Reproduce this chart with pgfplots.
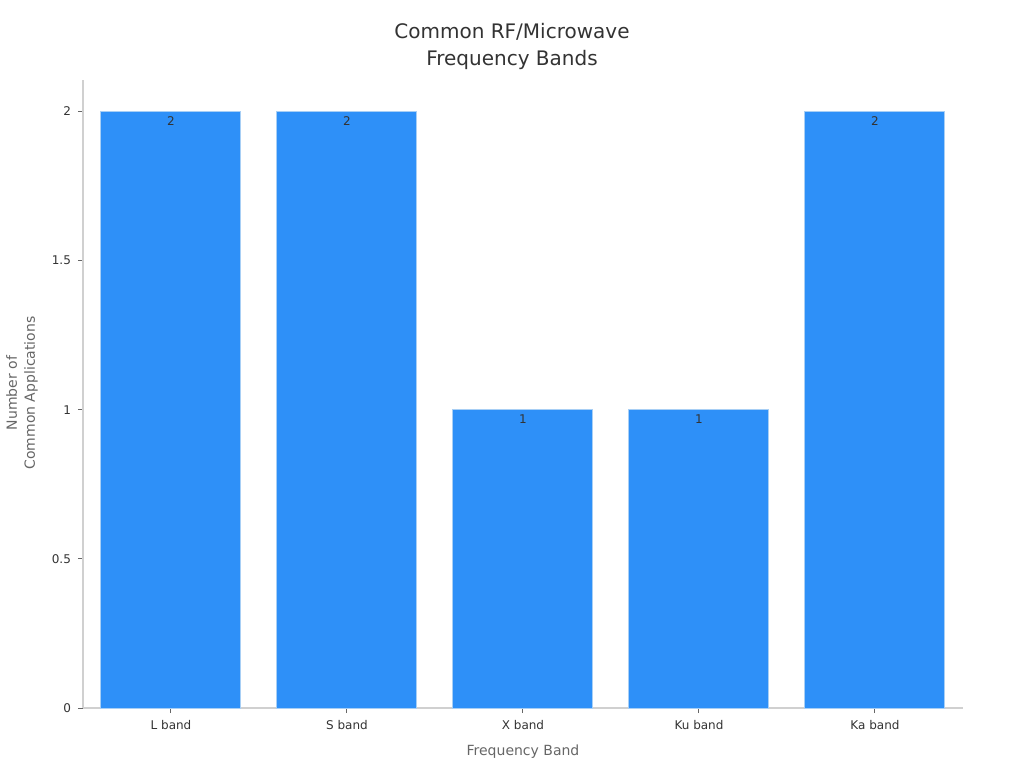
\documentclass[border=0pt]{standalone}
\usepackage{pgfplots}
\pgfplotsset{compat=1.18}
\usepackage{fontspec}
\setmainfont{DejaVu Sans}
\definecolor{barblue}{HTML}{2E90F8}
\definecolor{baredge}{HTML}{A8CFF5}
\definecolor{axisgray}{HTML}{D0D0D0}
\definecolor{labgray}{HTML}{666666}
\definecolor{txt}{HTML}{333333}
\begin{document}
\begin{tikzpicture}
\path[use as bounding box] (-41.5pt,-30pt) rectangle (470.5pt,354pt);
\begin{axis}[
  at={(0,0)}, anchor=south west,
  scale only axis, width=440pt, height=314pt,
  xmin=-0.5, xmax=4.5, ymin=0, ymax=2.105,
  enlargelimits=false,
  axis x line*=bottom, axis y line*=left,
  axis line style={axisgray, line width=0.6pt},
  ybar, bar width=70pt,
  xtick={0,1,2,3,4},
  xticklabels={L band, S band, X band, Ku band, Ka band},
  ytick={0,0.5,1,1.5,2},
  yticklabels={0,0.5,1,1.5,2},
  tick align=outside, major tick length=2.5pt,
  tick style={labgray, line width=0.5pt},
  tick label style={font=\fontsize{6}{7}\selectfont, text=txt},
  /pgf/number format/assume math mode=true,
  nodes near coords,
  every node near coord/.append style={anchor=north, yshift=1pt, font=\fontsize{6}{7}\selectfont, text=txt},
]
\addplot[fill=barblue, draw=baredge, line width=0.5pt] coordinates {
  (0,2) (1,2) (2,1) (3,1) (4,2)
};
\end{axis}
\node[align=center, text=txt, font=\fontsize{10}{13.5}\selectfont] at (214.5pt,330.75pt) {Common RF/Microwave\\Frequency Bands};
\node[align=center, text=labgray, rotate=90, font=\fontsize{7}{9}\selectfont] at (-30.5pt,157.5pt) {Number of\\Common Applications};
\node[text=labgray, font=\fontsize{7}{9}\selectfont] at (220pt,-22pt) {Frequency Band};
\end{tikzpicture}
\end{document}
